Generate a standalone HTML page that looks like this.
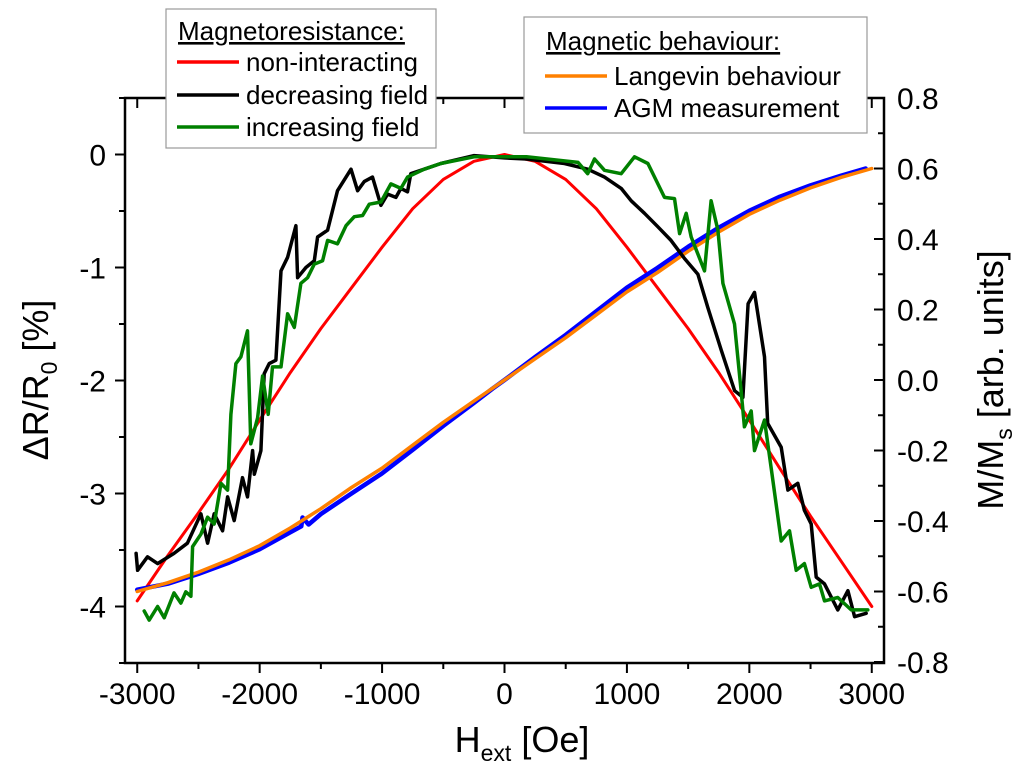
<!DOCTYPE html>
<html><head><meta charset="utf-8"><style>
html,body{margin:0;padding:0;background:#fff}
svg{display:block;font-family:"Liberation Sans",Arial,sans-serif}
</style></head><body>
<svg id="chart" width="1024" height="765" viewBox="0 0 1024 765">
<g id="marks"></g>
<g id="axes"></g>
<g>
<rect x="166" y="9" width="270" height="139" fill="#fff" stroke="#999" stroke-width="1.2"/>
<text x="178" y="40" font-size="26" text-decoration="underline">Magnetoresistance:</text>
<line x1="177" y1="62" x2="239" y2="62" stroke="#f00" stroke-width="3.5"/>
<text x="246" y="71" font-size="26">non-interacting</text>
<line x1="177" y1="95" x2="239" y2="95" stroke="#000" stroke-width="3.5"/>
<text x="246" y="104" font-size="26">decreasing field</text>
<line x1="177" y1="127" x2="239" y2="127" stroke="#008000" stroke-width="3.5"/>
<text x="246" y="136" font-size="26">increasing field</text>
</g>
<g>
<rect x="524" y="17" width="343" height="116" fill="#fff" stroke="#999" stroke-width="1.2"/>
<text x="546" y="50" font-size="26" text-decoration="underline">Magnetic behaviour:</text>
<line x1="545" y1="76" x2="607" y2="76" stroke="#ff8000" stroke-width="3.5"/>
<text x="614" y="85" font-size="26">Langevin behaviour</text>
<line x1="545" y1="108" x2="607" y2="108" stroke="#0000ff" stroke-width="3.5"/>
<text x="614" y="117" font-size="26">AGM measurement</text>
</g>
<text x="522" y="752" font-size="36" text-anchor="middle">H<tspan font-size="23" dy="9">ext</tspan><tspan dy="-9"> [Oe]</tspan></text>
<text transform="translate(48,380) rotate(-90)" font-size="36" text-anchor="middle">ΔR/R<tspan font-size="23" dy="9">0</tspan><tspan dy="-9"> [%]</tspan></text>
<text transform="translate(1003,380) rotate(-90)" font-size="36" text-anchor="middle">M/M<tspan font-size="23" dy="9">s</tspan><tspan dy="-9"> [arb. units]</tspan></text>
</svg>
<script>
const xTicks=[-3000,-2000,-1000,0,1000,2000,3000];
const xTickLabels=["-3000","-2000","-1000","0","1000","2000","3000"];
const yLeftTicks=[0,-1,-2,-3,-4];
const yLeftLabels=["0","-1","-2","-3","-4"];
const yRightTicks=[0.8,0.6,0.4,0.2,0,-0.2,-0.4,-0.6,-0.8];
const yRightLabels=["0.8","0.6","0.4","0.2","0.0","-0.2","-0.4","-0.6","-0.8"];

const redH=[-3000,-2750,-2500,-2250,-2000,-1750,-1500,-1250,-1000,-750,-500,-250,0,250,500,750,1000,1250,1500,1750,2000,2250,2500,2750,3000];
const redR=[-3.95,-3.55,-3.17,-2.78,-2.35,-1.93,-1.54,-1.18,-0.82,-0.48,-0.22,-0.06,0,-0.06,-0.22,-0.48,-0.82,-1.18,-1.54,-1.93,-2.35,-2.78,-3.2,-3.6,-4.0];

const blackH=[-3009,-2997,-2916,-2834,-2700,-2590,-2480,-2425,-2371,-2303,-2262,-2208,-2140,-2099,-2058,-2044,-1990,-1963,-1922,-1867,-1826,-1772,-1704,-1690,-1622,-1554,-1527,-1445,-1364,-1254,-1200,-1146,-1078,-1010,-955,-887,-846,-792,-765,-656,-520,-248,0,180,490,680,817,953,1035,1144,1253,1360,1470,1580,1660,1770,1880,1947,1990,2042,2124,2150,2260,2315,2396,2450,2505,2546,2614,2723,2805,2860,2955];
const blackR=[-3.53,-3.68,-3.56,-3.62,-3.53,-3.44,-3.18,-3.44,-3.18,-3.33,-3.03,-3.24,-2.86,-3.03,-2.62,-2.83,-2.62,-1.94,-1.85,-1.82,-1.03,-0.91,-0.63,-1.09,-1.0,-0.94,-0.73,-0.67,-0.32,-0.13,-0.32,-0.24,-0.2,-0.45,-0.35,-0.38,-0.3,-0.33,-0.17,-0.13,-0.08,-0.01,-0.03,-0.04,-0.08,-0.13,-0.2,-0.3,-0.41,-0.52,-0.64,-0.76,-0.92,-1.06,-1.35,-1.73,-2.09,-2.15,-1.32,-1.22,-1.79,-2.38,-2.59,-2.97,-2.91,-3.15,-3.27,-3.74,-3.8,-4.03,-3.86,-4.09,-4.06];

const greenH=[-2943,-2902,-2834,-2780,-2700,-2643,-2603,-2562,-2548,-2480,-2425,-2371,-2316,-2262,-2235,-2194,-2153,-2099,-2072,-2017,-1976,-1930,-1895,-1826,-1772,-1717,-1663,-1608,-1554,-1486,-1445,-1364,-1295,-1227,-1159,-1104,-1010,-928,-846,-792,-656,-520,-248,0,180,600,680,735,817,953,1062,1171,1307,1389,1430,1484,1525,1634,1688,1743,1784,1879,1933,1960,2015,2042,2124,2178,2260,2328,2383,2450,2505,2573,2614,2723,2832,2968];
const greenR=[-4.04,-4.12,-4.0,-4.1,-3.88,-3.97,-3.87,-3.91,-3.47,-3.36,-3.21,-3.27,-2.91,-2.97,-2.3,-1.85,-1.79,-1.56,-2.56,-2.33,-1.96,-2.3,-1.88,-1.88,-1.41,-1.53,-1.14,-1.09,-0.97,-0.94,-0.76,-0.79,-0.63,-0.55,-0.54,-0.44,-0.42,-0.26,-0.3,-0.2,-0.13,-0.08,-0.02,-0.02,-0.02,-0.07,-0.17,-0.04,-0.14,-0.17,-0.02,-0.08,-0.38,-0.39,-0.7,-0.52,-0.73,-1.03,-0.41,-0.67,-1.14,-1.5,-2.09,-2.41,-2.27,-2.62,-2.35,-2.77,-3.42,-3.33,-3.68,-3.62,-3.83,-3.8,-3.95,-3.92,-4.03,-4.03];

const orangeH=[-3000,-2750,-2500,-2250,-2000,-1750,-1500,-1250,-1000,-750,-500,-250,0,250,500,750,1000,1250,1500,1750,2000,2250,2500,2750,3000];
const orangeM=[-0.6,-0.575,-0.545,-0.51,-0.47,-0.42,-0.365,-0.305,-0.25,-0.185,-0.12,-0.06,0,0.06,0.12,0.185,0.25,0.305,0.365,0.42,0.47,0.51,0.545,0.575,0.6];

const blueH=[-3000,-2750,-2500,-2250,-2000,-1750,-1660,-1650,-1600,-1500,-1250,-1000,-750,-500,-250,-100,0,250,500,750,1000,1250,1500,1750,2000,2250,2500,2750,2950];
const blueM=[-0.595,-0.578,-0.55,-0.518,-0.48,-0.432,-0.415,-0.39,-0.41,-0.38,-0.322,-0.265,-0.198,-0.13,-0.065,-0.025,0.0,0.065,0.128,0.195,0.262,0.318,0.378,0.432,0.48,0.52,0.552,0.58,0.6];

const X=h=>125+(h+3100)/6200*759;
const YL=r=>98+(0.5-r)/5*565;
const YR=m=>98+(0.8-m)/1.6*564;
const NS="http://www.w3.org/2000/svg";
const marks=document.getElementById('marks');
const axes=document.getElementById('axes');
function mk(tag,attrs,parent){const e=document.createElementNS(NS,tag);for(const k in attrs)e.setAttribute(k,attrs[k]);parent.appendChild(e);return e;}
function series(hs,vs,yf,color,name,w){
  const d=hs.map((h,i)=>(i?'L':'M')+X(h).toFixed(1)+' '+yf(vs[i]).toFixed(1)).join(' ');
  const p=mk('path',{d:d,fill:'none',stroke:color,'stroke-width':w,'stroke-linejoin':'round','stroke-linecap':'round'},marks);
  
  
}
series(redH,redR,YL,'#ff0000','series-non-interacting',3);
series(blueH,blueM,YR,'#0000ff','series-agm-measurement',4.5);
series(orangeH,orangeM,YR,'#ff8000','series-langevin',3.5);
series(blackH,blackR,YL,'#000000','series-decreasing-field',3.5);
series(greenH,greenR,YL,'#008000','series-increasing-field',3.5);

const frame=mk('rect',{x:125,y:98,width:759,height:565,fill:'none',stroke:'#000','stroke-width':2.5},axes);


xTicks.forEach((t,i)=>{
  const x=X(t);
  mk('line',{x1:x,y1:663,x2:x,y2:673,stroke:'#000','stroke-width':2},axes);
  mk('line',{x1:x,y1:98,x2:x,y2:108,stroke:'#000','stroke-width':2},axes);
  if(i<xTicks.length-1){const xm=X(t+500);mk('line',{x1:xm,y1:663,x2:xm,y2:669,stroke:'#000','stroke-width':2},axes);mk('line',{x1:xm,y1:98,x2:xm,y2:104,stroke:'#000','stroke-width':2},axes);}
  const tx=mk('text',{x:x,y:704,'font-size':30,'text-anchor':'middle'},axes);
  tx.textContent=xTickLabels[i];
  
  
});
yLeftTicks.forEach((t,i)=>{
  const y=YL(t);
  mk('line',{x1:115,y1:y,x2:125,y2:y,stroke:'#000','stroke-width':2},axes);
  const ym=YL(t-0.5);mk('line',{x1:119,y1:ym,x2:125,y2:ym,stroke:'#000','stroke-width':2},axes);
  const tx=mk('text',{x:106,y:y+11,'font-size':30,'text-anchor':'end'},axes);
  tx.textContent=yLeftLabels[i];
  
  
});
mk('line',{x1:119,y1:YL(0.5),x2:125,y2:YL(0.5),stroke:'#000','stroke-width':2},axes);
yRightTicks.forEach((t,i)=>{
  const y=YR(t);
  mk('line',{x1:874,y1:y,x2:884,y2:y,stroke:'#000','stroke-width':2},axes);
  if(i<yRightTicks.length-1){const ym=YR(t-0.1);mk('line',{x1:878,y1:ym,x2:884,y2:ym,stroke:'#000','stroke-width':2},axes);}
  const tx=mk('text',{x:897,y:y+11,'font-size':30,'text-anchor':'start'},axes);
  tx.textContent=yRightLabels[i];
  
  
});
</script>
</body></html>
